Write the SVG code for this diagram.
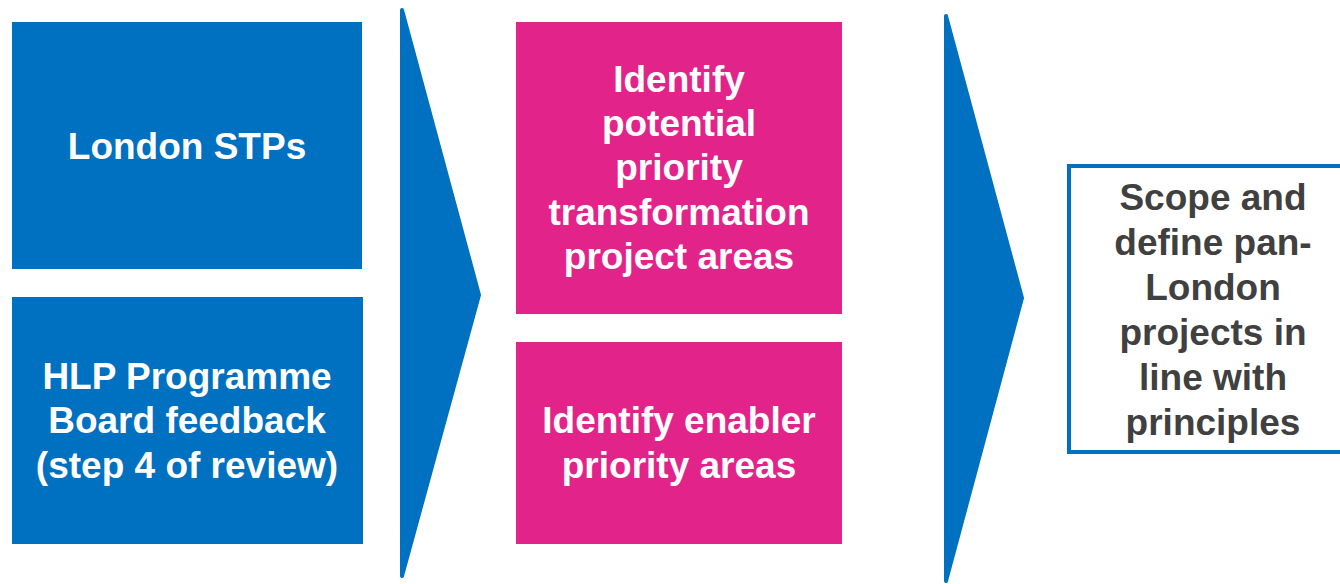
<svg xmlns="http://www.w3.org/2000/svg" width="1340" height="584" viewBox="0 0 1340 584">
<style>
.blue{fill:#0070C0}
.pink{fill:#E2238A}
.chev{fill:#0070C0;stroke:#0070C0;stroke-width:4;stroke-linejoin:round}
.t{font-family:"Liberation Sans",Arial,sans-serif;font-weight:bold;font-size:37px;text-anchor:middle}
.w{fill:#FFFFFF}
.g{fill:#404040}
</style>
<rect width="1340" height="584" fill="#FFFFFF"/>
<g id="connectors">
<polygon class="chev" points="402,10 479,295 402,576"/>
<polygon class="chev" points="946,16 1022,298 946,581"/>
</g>
<g id="london-stps">
<rect class="blue" x="12" y="22" width="350" height="247"/>
<text class="t w" x="187" y="159">London STPs</text>
</g>
<g id="hlp-board">
<rect class="blue" x="12" y="297" width="351" height="247"/>
<text class="t w" x="187" y="389">HLP Programme</text>
<text class="t w" x="187" y="433">Board feedback</text>
<text class="t w" x="187" y="478">(step 4 of review)</text>
</g>
<g id="identify-transformation">
<rect class="pink" x="516" y="22" width="326" height="292"/>
<text class="t w" x="679" y="92">Identify</text>
<text class="t w" x="679" y="136">potential</text>
<text class="t w" x="679" y="180">priority</text>
<text class="t w" x="679" y="225">transformation</text>
<text class="t w" x="679" y="269">project areas</text>
</g>
<g id="identify-enabler">
<rect class="pink" x="516" y="342" width="326" height="202"/>
<text class="t w" x="679" y="433">Identify enabler</text>
<text class="t w" x="679" y="478">priority areas</text>
</g>
<g id="scope-define">
<rect x="1069" y="166" width="290" height="286" fill="#FFFFFF" stroke="#0070C0" stroke-width="4"/>
<text class="t g" x="1213" y="210">Scope and</text>
<text class="t g" x="1213" y="255">define pan-</text>
<text class="t g" x="1213" y="300">London</text>
<text class="t g" x="1213" y="345">projects in</text>
<text class="t g" x="1213" y="390">line with</text>
<text class="t g" x="1213" y="435">principles</text>
</g>
</svg>
